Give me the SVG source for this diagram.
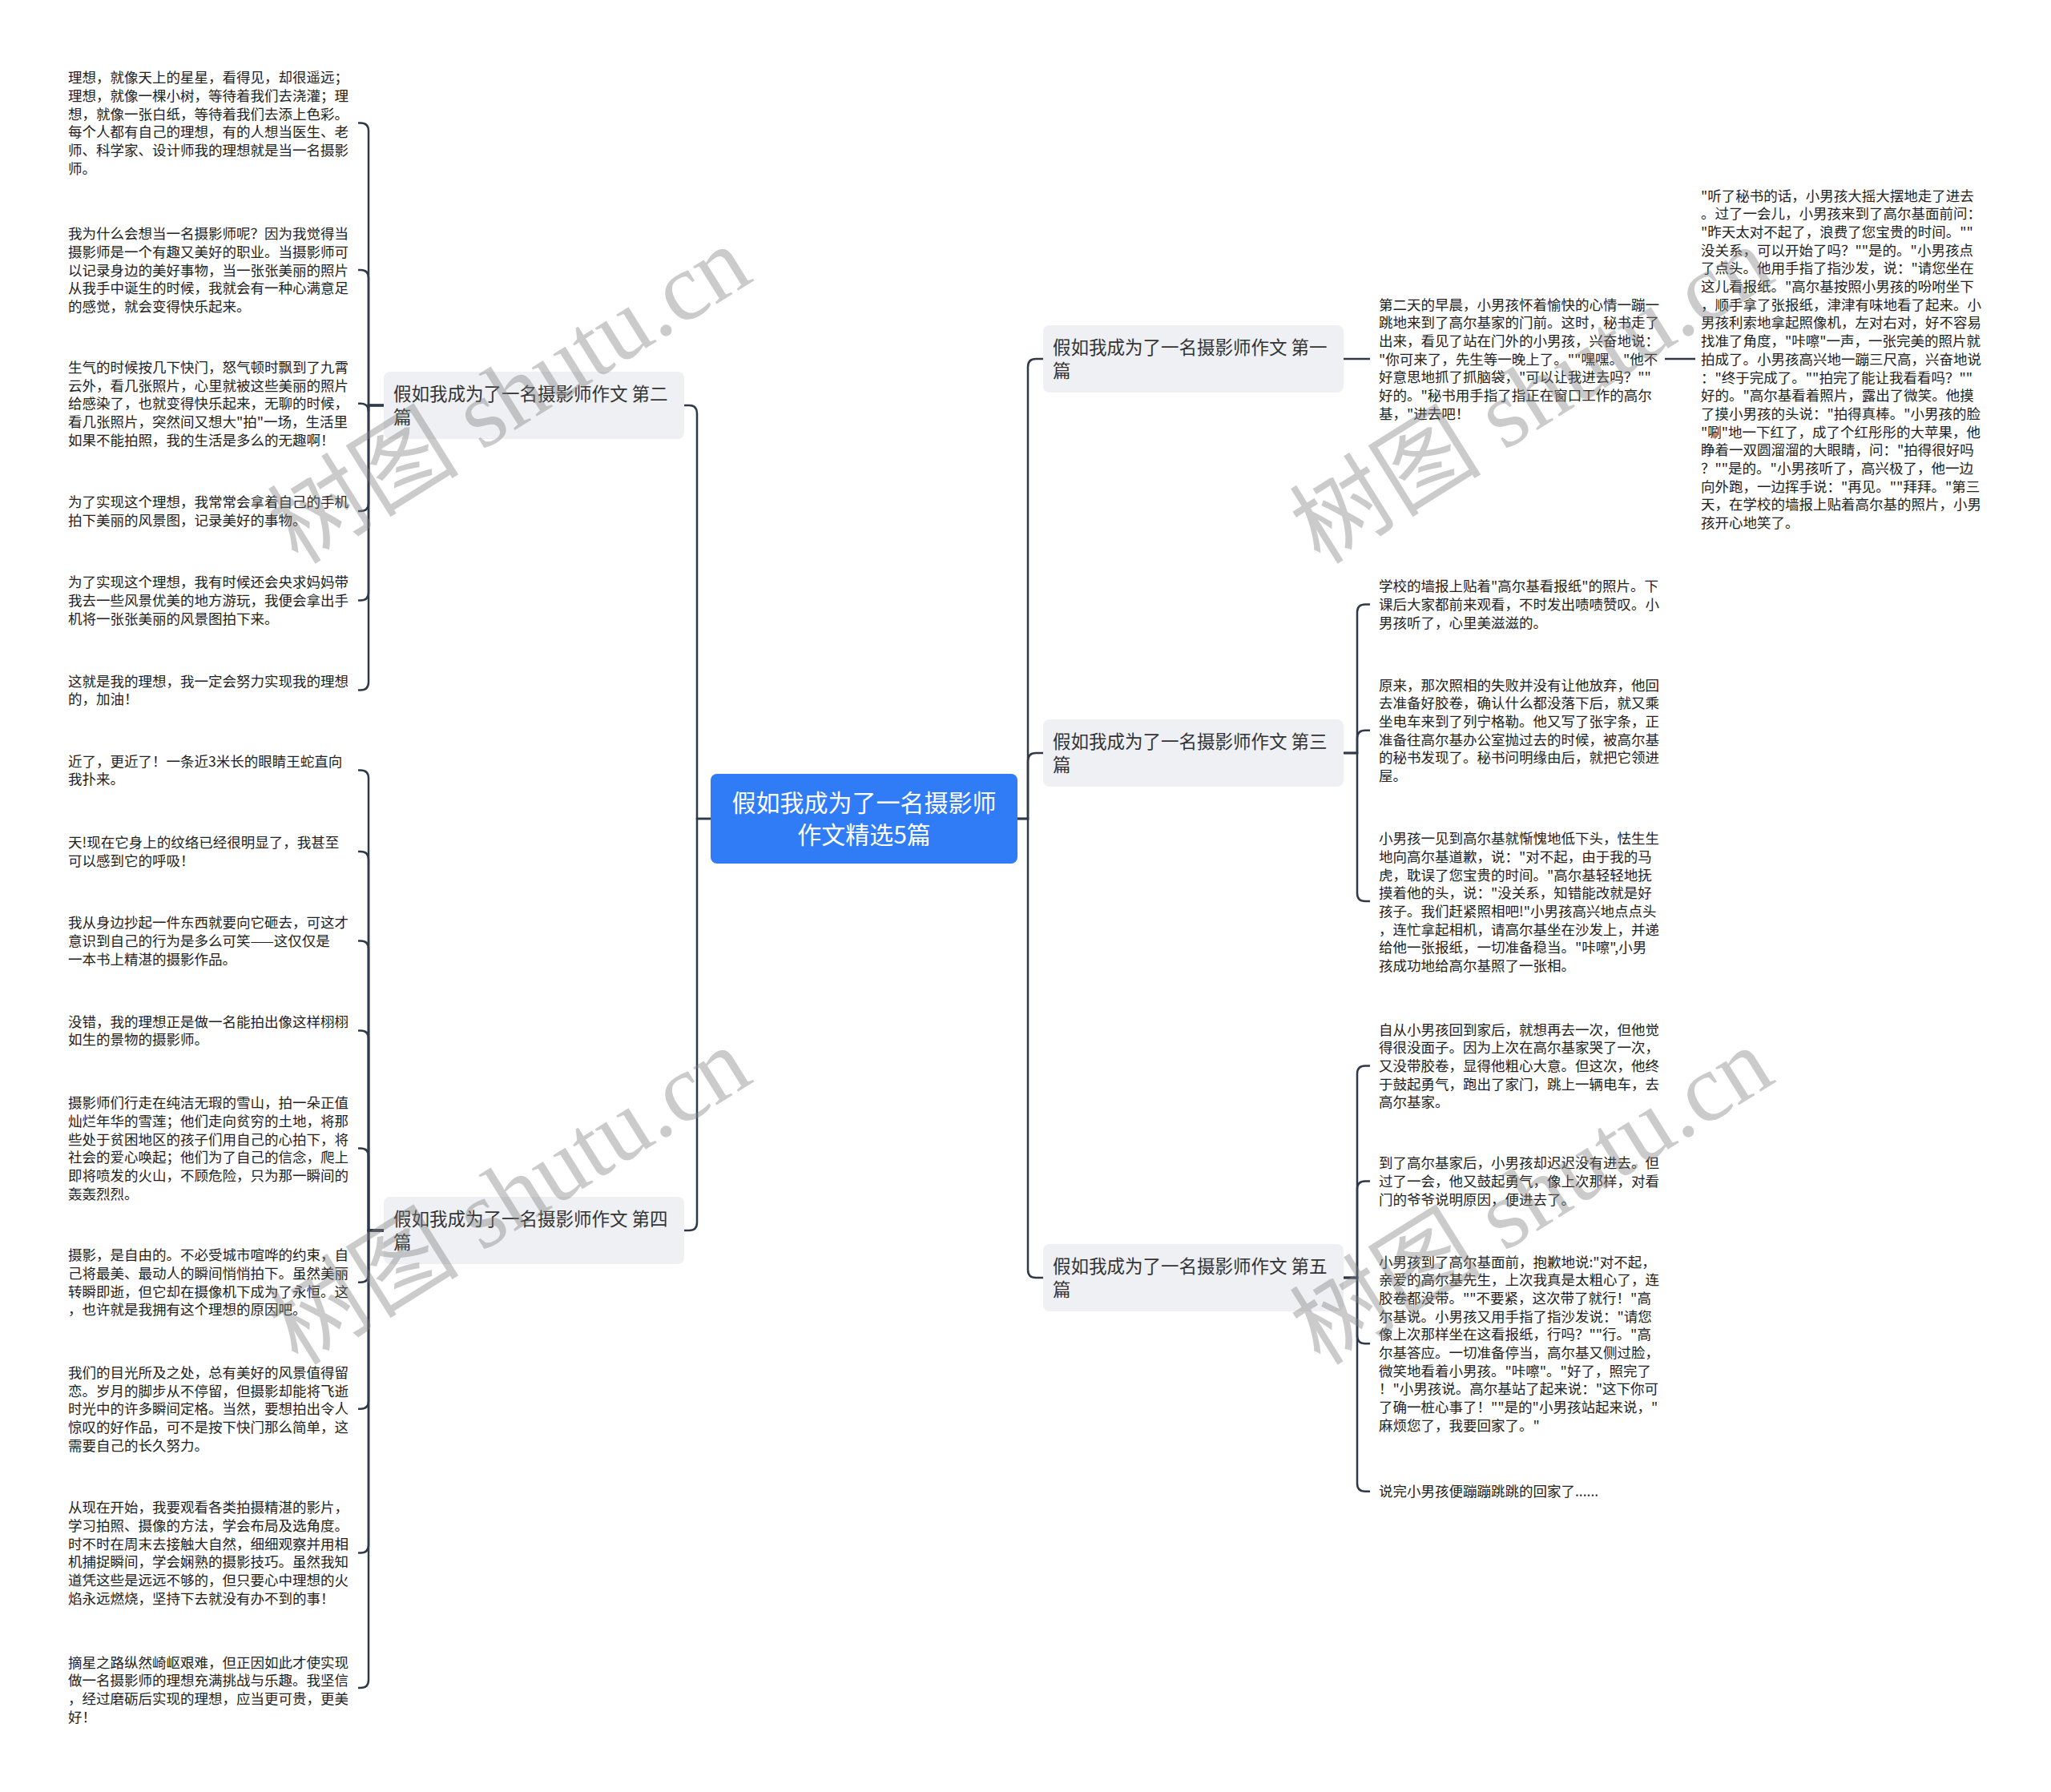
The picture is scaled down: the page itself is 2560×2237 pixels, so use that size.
<svg xmlns="http://www.w3.org/2000/svg" width="2560" height="2237" viewBox="0 0 2560 2237">
<style>
.leaf{font-family:"Noto Sans CJK SC","Noto Sans",sans-serif;font-size:17.5px;fill:#222}
.ntext{font-family:"Noto Sans CJK SC","Noto Sans",sans-serif;font-size:22.5px;fill:#333}
.nbox{fill:#eef0f3}
.conn{fill:none;stroke:#2e3a48;stroke-width:2.5}
.wm{font-family:"Liberation Serif","Noto Sans CJK SC",serif;font-size:120px;fill:#808080;opacity:0.4}
</style>
<rect width="2560" height="2237" fill="#ffffff"/>
<g id="connectors">
<path class="conn" d="M1270 1022H1283V458Q1283 448 1293 448H1302"/>
<path class="conn" d="M1270 1022H1283V950Q1283 940 1293 940H1302"/>
<path class="conn" d="M1270 1022H1283V1585Q1283 1595 1293 1595H1302"/>
<path class="conn" d="M887 1022H870V516Q870 506 860 506H854"/>
<path class="conn" d="M887 1022H870V1526Q870 1536 860 1536H854"/>
<path class="conn" d="M479 506H460V163.4Q460 153.4 450 153.4H447"/>
<path class="conn" d="M479 506H460V347.1Q460 337.1 450 337.1H447"/>
<path class="conn" d="M479 506H460V513.7Q460 503.7 450 503.7H447"/>
<path class="conn" d="M479 506H460V628Q460 638 450 638H447"/>
<path class="conn" d="M479 506H460V739.4Q460 749.4 450 749.4H447"/>
<path class="conn" d="M479 506H460V851.4Q460 861.4 450 861.4H447"/>
<path class="conn" d="M479 1536H460V971.4Q460 961.4 450 961.4H447"/>
<path class="conn" d="M479 1536H460V1073Q460 1063 450 1063H447"/>
<path class="conn" d="M479 1536H460V1184.4Q460 1174.4 450 1174.4H447"/>
<path class="conn" d="M479 1536H460V1296.4Q460 1286.4 450 1286.4H447"/>
<path class="conn" d="M479 1536H460V1443.5Q460 1433.5 450 1433.5H447"/>
<path class="conn" d="M479 1536H460V1590.8Q460 1600.8 450 1600.8H447"/>
<path class="conn" d="M479 1536H460V1748.7Q460 1758.7 450 1758.7H447"/>
<path class="conn" d="M479 1536H460V1928.5Q460 1938.5 450 1938.5H447"/>
<path class="conn" d="M479 1536H460V2097Q460 2107 450 2107H447"/>
<path class="conn" d="M1677 448H1710"/>
<path class="conn" d="M2078 448H2116"/>
<path class="conn" d="M1677 940H1694V764.4Q1694 754.4 1704 754.4H1710"/>
<path class="conn" d="M1677 940H1694V921.8Q1694 911.8 1704 911.8H1710"/>
<path class="conn" d="M1677 940H1694V1115Q1694 1125 1704 1125H1710"/>
<path class="conn" d="M1677 1595H1694V1340.4Q1694 1330.4 1704 1330.4H1710"/>
<path class="conn" d="M1677 1595H1694V1484.4Q1694 1474.4 1704 1474.4H1710"/>
<path class="conn" d="M1677 1595H1694V1667.2Q1694 1677.2 1704 1677.2H1710"/>
<path class="conn" d="M1677 1595H1694V1851.7Q1694 1861.7 1704 1861.7H1710"/>
</g>
<g id="center">
<rect x="887" y="966" width="383" height="112" rx="8" fill="#2f7cf6"/>
<text x="1078.5" y="1013" text-anchor="middle" style="font-family:'Noto Sans CJK SC',sans-serif;font-size:30px;fill:#ffffff">假如我成为了一名摄影师</text>
<text x="1078.5" y="1053" text-anchor="middle" style="font-family:'Noto Sans CJK SC',sans-serif;font-size:30px;fill:#ffffff">作文精选5篇</text>
</g>
<g id="n1">
<rect class="nbox" x="1302" y="406" width="375" height="84" rx="8"/>
<text class="ntext" x="1314" y="442">假如我成为了一名摄影师作文 第一<tspan x="1314" dy="28.5">篇</tspan></text>
</g>
<g id="n3">
<rect class="nbox" x="1302" y="898" width="375" height="84" rx="8"/>
<text class="ntext" x="1314" y="934">假如我成为了一名摄影师作文 第三<tspan x="1314" dy="28.5">篇</tspan></text>
</g>
<g id="n5">
<rect class="nbox" x="1302" y="1553" width="375" height="84" rx="8"/>
<text class="ntext" x="1314" y="1589">假如我成为了一名摄影师作文 第五<tspan x="1314" dy="28.5">篇</tspan></text>
</g>
<g id="n2">
<rect class="nbox" x="479" y="464" width="375" height="84" rx="8"/>
<text class="ntext" x="491" y="500">假如我成为了一名摄影师作文 第二<tspan x="491" dy="28.5">篇</tspan></text>
</g>
<g id="n4">
<rect class="nbox" x="479" y="1494" width="375" height="84" rx="8"/>
<text class="ntext" x="491" y="1530">假如我成为了一名摄影师作文 第四<tspan x="491" dy="28.5">篇</tspan></text>
</g>
<g id="l2-1"><text class="leaf" x="85" y="103.2">理想，就像天上的星星，看得见，却很遥远；<tspan x="85" dy="22.7">理想，就像一棵小树，等待着我们去浇灌；理</tspan><tspan x="85" dy="22.7">想，就像一张白纸，等待着我们去添上色彩。</tspan><tspan x="85" dy="22.7">每个人都有自己的理想，有的人想当医生、老</tspan><tspan x="85" dy="22.7">师、科学家、设计师我的理想就是当一名摄影</tspan><tspan x="85" dy="22.7">师。</tspan></text></g>
<g id="l2-2"><text class="leaf" x="85" y="298.2">我为什么会想当一名摄影师呢？因为我觉得当<tspan x="85" dy="22.7">摄影师是一个有趣又美好的职业。当摄影师可</tspan><tspan x="85" dy="22.7">以记录身边的美好事物，当一张张美丽的照片</tspan><tspan x="85" dy="22.7">从我手中诞生的时候，我就会有一种心满意足</tspan><tspan x="85" dy="22.7">的感觉，就会变得快乐起来。</tspan></text></g>
<g id="l2-3"><text class="leaf" x="85" y="464.8">生气的时候按几下快门，怒气顿时飘到了九霄<tspan x="85" dy="22.7">云外，看几张照片，心里就被这些美丽的照片</tspan><tspan x="85" dy="22.7">给感染了，也就变得快乐起来，无聊的时候，</tspan><tspan x="85" dy="22.7">看几张照片，突然间又想大"拍"一场，生活里</tspan><tspan x="85" dy="22.7">如果不能拍照，我的生活是多么的无趣啊！</tspan></text></g>
<g id="l2-4"><text class="leaf" x="85" y="633.2">为了实现这个理想，我常常会拿着自己的手机<tspan x="85" dy="22.7">拍下美丽的风景图，记录美好的事物。</tspan></text></g>
<g id="l2-5"><text class="leaf" x="85" y="733.2">为了实现这个理想，我有时候还会央求妈妈带<tspan x="85" dy="22.7">我去一些风景优美的地方游玩，我便会拿出手</tspan><tspan x="85" dy="22.7">机将一张张美丽的风景图拍下来。</tspan></text></g>
<g id="l2-6"><text class="leaf" x="85" y="856.5">这就是我的理想，我一定会努力实现我的理想<tspan x="85" dy="22.7">的，加油！</tspan></text></g>
<g id="l4-1"><text class="leaf" x="85" y="956.5">近了，更近了！一条近3米长的眼睛王蛇直向<tspan x="85" dy="22.7">我扑来。</tspan></text></g>
<g id="l4-2"><text class="leaf" x="85" y="1058.2">天!现在它身上的纹络已经很明显了，我甚至<tspan x="85" dy="22.7">可以感到它的呼吸！</tspan></text></g>
<g id="l4-3"><text class="leaf" x="85" y="1158.2">我从身边抄起一件东西就要向它砸去，可这才<tspan x="85" dy="22.7">意识到自己的行为是多么可笑——这仅仅是</tspan><tspan x="85" dy="22.7">一本书上精湛的摄影作品。</tspan></text></g>
<g id="l4-4"><text class="leaf" x="85" y="1281.5">没错，我的理想正是做一名能拍出像这样栩栩<tspan x="85" dy="22.7">如生的景物的摄影师。</tspan></text></g>
<g id="l4-5"><text class="leaf" x="85" y="1383.2">摄影师们行走在纯洁无瑕的雪山，拍一朵正值<tspan x="85" dy="22.7">灿烂年华的雪莲；他们走向贫穷的土地，将那</tspan><tspan x="85" dy="22.7">些处于贫困地区的孩子们用自己的心拍下，将</tspan><tspan x="85" dy="22.7">社会的爱心唤起；他们为了自己的信念，爬上</tspan><tspan x="85" dy="22.7">即将喷发的火山，不顾危险，只为那一瞬间的</tspan><tspan x="85" dy="22.7">轰轰烈烈。</tspan></text></g>
<g id="l4-6"><text class="leaf" x="85" y="1573.2">摄影，是自由的。不必受城市喧哗的约束，自<tspan x="85" dy="22.7">己将最美、最动人的瞬间悄悄拍下。虽然美丽</tspan><tspan x="85" dy="22.7">转瞬即逝，但它却在摄像机下成为了永恒。这</tspan><tspan x="85" dy="22.7">，也许就是我拥有这个理想的原因吧。</tspan></text></g>
<g id="l4-7"><text class="leaf" x="85" y="1719.8">我们的目光所及之处，总有美好的风景值得留<tspan x="85" dy="22.7">恋。岁月的脚步从不停留，但摄影却能将飞逝</tspan><tspan x="85" dy="22.7">时光中的许多瞬间定格。当然，要想拍出令人</tspan><tspan x="85" dy="22.7">惊叹的好作品，可不是按下快门那么简单，这</tspan><tspan x="85" dy="22.7">需要自己的长久努力。</tspan></text></g>
<g id="l4-8"><text class="leaf" x="85" y="1888.2">从现在开始，我要观看各类拍摄精湛的影片，<tspan x="85" dy="22.7">学习拍照、摄像的方法，学会布局及选角度。</tspan><tspan x="85" dy="22.7">时不时在周末去接触大自然，细细观察并用相</tspan><tspan x="85" dy="22.7">机捕捉瞬间，学会娴熟的摄影技巧。虽然我知</tspan><tspan x="85" dy="22.7">道凭这些是远远不够的，但只要心中理想的火</tspan><tspan x="85" dy="22.7">焰永远燃烧，坚持下去就没有办不到的事！</tspan></text></g>
<g id="l4-9"><text class="leaf" x="85" y="2081.5">摘星之路纵然崎岖艰难，但正因如此才使实现<tspan x="85" dy="22.7">做一名摄影师的理想充满挑战与乐趣。我坚信</tspan><tspan x="85" dy="22.7">，经过磨砺后实现的理想，应当更可贵，更美</tspan><tspan x="85" dy="22.7">好！</tspan></text></g>
<g id="r1"><text class="leaf" x="1721" y="386.5">第二天的早晨，小男孩怀着愉快的心情一蹦一<tspan x="1721" dy="22.7">跳地来到了高尔基家的门前。这时，秘书走了</tspan><tspan x="1721" dy="22.7">出来，看见了站在门外的小男孩，兴奋地说：</tspan><tspan x="1721" dy="22.7">"你可来了，先生等一晚上了。""嘿嘿。"他不</tspan><tspan x="1721" dy="22.7">好意思地抓了抓脑袋，"可以让我进去吗？""</tspan><tspan x="1721" dy="22.7">好的。"秘书用手指了指正在窗口工作的高尔</tspan><tspan x="1721" dy="22.7">基，"进去吧！</tspan></text></g>
<g id="r1-1"><text class="leaf" x="2123" y="250.5">"听了秘书的话，小男孩大摇大摆地走了进去<tspan x="2123" dy="22.7">。过了一会儿，小男孩来到了高尔基面前问：</tspan><tspan x="2123" dy="22.7">"昨天太对不起了，浪费了您宝贵的时间。""</tspan><tspan x="2123" dy="22.7">没关系，可以开始了吗？""是的。"小男孩点</tspan><tspan x="2123" dy="22.7">了点头。他用手指了指沙发，说："请您坐在</tspan><tspan x="2123" dy="22.7">这儿看报纸。"高尔基按照小男孩的吩咐坐下</tspan><tspan x="2123" dy="22.7">，顺手拿了张报纸，津津有味地看了起来。小</tspan><tspan x="2123" dy="22.7">男孩利索地拿起照像机，左对右对，好不容易</tspan><tspan x="2123" dy="22.7">找准了角度，"咔嚓"一声，一张完美的照片就</tspan><tspan x="2123" dy="22.7">拍成了。小男孩高兴地一蹦三尺高，兴奋地说</tspan><tspan x="2123" dy="22.7">："终于完成了。""拍完了能让我看看吗？""</tspan><tspan x="2123" dy="22.7">好的。"高尔基看着照片，露出了微笑。他摸</tspan><tspan x="2123" dy="22.7">了摸小男孩的头说："拍得真棒。"小男孩的脸</tspan><tspan x="2123" dy="22.7">"唰"地一下红了，成了个红彤彤的大苹果，他</tspan><tspan x="2123" dy="22.7">睁着一双圆溜溜的大眼睛，问："拍得很好吗</tspan><tspan x="2123" dy="22.7">？""是的。"小男孩听了，高兴极了，他一边</tspan><tspan x="2123" dy="22.7">向外跑，一边挥手说："再见。""拜拜。"第三</tspan><tspan x="2123" dy="22.7">天，在学校的墙报上贴着高尔基的照片，小男</tspan><tspan x="2123" dy="22.7">孩开心地笑了。</tspan></text></g>
<g id="r3-1"><text class="leaf" x="1721" y="738.2">学校的墙报上贴着"高尔基看报纸"的照片。下<tspan x="1721" dy="22.7">课后大家都前来观看，不时发出啧啧赞叹。小</tspan><tspan x="1721" dy="22.7">男孩听了，心里美滋滋的。</tspan></text></g>
<g id="r3-2"><text class="leaf" x="1721" y="861.5">原来，那次照相的失败并没有让他放弃，他回<tspan x="1721" dy="22.7">去准备好胶卷，确认什么都没落下后，就又乘</tspan><tspan x="1721" dy="22.7">坐电车来到了列宁格勒。他又写了张字条，正</tspan><tspan x="1721" dy="22.7">准备往高尔基办公室抛过去的时候，被高尔基</tspan><tspan x="1721" dy="22.7">的秘书发现了。秘书问明缘由后，就把它领进</tspan><tspan x="1721" dy="22.7">屋。</tspan></text></g>
<g id="r3-3"><text class="leaf" x="1721" y="1053.2">小男孩一见到高尔基就惭愧地低下头，怯生生<tspan x="1721" dy="22.7">地向高尔基道歉，说："对不起，由于我的马</tspan><tspan x="1721" dy="22.7">虎，耽误了您宝贵的时间。"高尔基轻轻地抚</tspan><tspan x="1721" dy="22.7">摸着他的头，说："没关系，知错能改就是好</tspan><tspan x="1721" dy="22.7">孩子。我们赶紧照相吧!"小男孩高兴地点点头</tspan><tspan x="1721" dy="22.7">，连忙拿起相机，请高尔基坐在沙发上，并递</tspan><tspan x="1721" dy="22.7">给他一张报纸，一切准备稳当。"咔嚓",小男</tspan><tspan x="1721" dy="22.7">孩成功地给高尔基照了一张相。</tspan></text></g>
<g id="r5-1"><text class="leaf" x="1721" y="1291.5">自从小男孩回到家后，就想再去一次，但他觉<tspan x="1721" dy="22.7">得很没面子。因为上次在高尔基家哭了一次，</tspan><tspan x="1721" dy="22.7">又没带胶卷，显得他粗心大意。但这次，他终</tspan><tspan x="1721" dy="22.7">于鼓起勇气，跑出了家门，跳上一辆电车，去</tspan><tspan x="1721" dy="22.7">高尔基家。</tspan></text></g>
<g id="r5-2"><text class="leaf" x="1721" y="1458.2">到了高尔基家后，小男孩却迟迟没有进去。但<tspan x="1721" dy="22.7">过了一会，他又鼓起勇气，像上次那样，对看</tspan><tspan x="1721" dy="22.7">门的爷爷说明原因，便进去了。</tspan></text></g>
<g id="r5-3"><text class="leaf" x="1721" y="1581.5">小男孩到了高尔基面前，抱歉地说:"对不起，<tspan x="1721" dy="22.7">亲爱的高尔基先生，上次我真是太粗心了，连</tspan><tspan x="1721" dy="22.7">胶卷都没带。""不要紧，这次带了就行！"高</tspan><tspan x="1721" dy="22.7">尔基说。小男孩又用手指了指沙发说："请您</tspan><tspan x="1721" dy="22.7">像上次那样坐在这看报纸，行吗？""行。"高</tspan><tspan x="1721" dy="22.7">尔基答应。一切准备停当，高尔基又侧过脸，</tspan><tspan x="1721" dy="22.7">微笑地看着小男孩。"咔嚓"。"好了，照完了</tspan><tspan x="1721" dy="22.7">！"小男孩说。高尔基站了起来说："这下你可</tspan><tspan x="1721" dy="22.7">了确一桩心事了！""是的"小男孩站起来说，"</tspan><tspan x="1721" dy="22.7">麻烦您了，我要回家了。"</tspan></text></g>
<g id="r5-4"><text class="leaf" x="1721" y="1868.2">说完小男孩便蹦蹦跳跳的回家了......</text></g>
<g id="watermarks">
<text class="wm" transform="translate(372 706) rotate(-32)">树图 shutu.cn</text>
<text class="wm" transform="translate(1648 706) rotate(-32)">树图 shutu.cn</text>
<text class="wm" transform="translate(372 1706) rotate(-32)">树图 shutu.cn</text>
<text class="wm" transform="translate(1648 1706) rotate(-32)">树图 shutu.cn</text>
</g>
</svg>
